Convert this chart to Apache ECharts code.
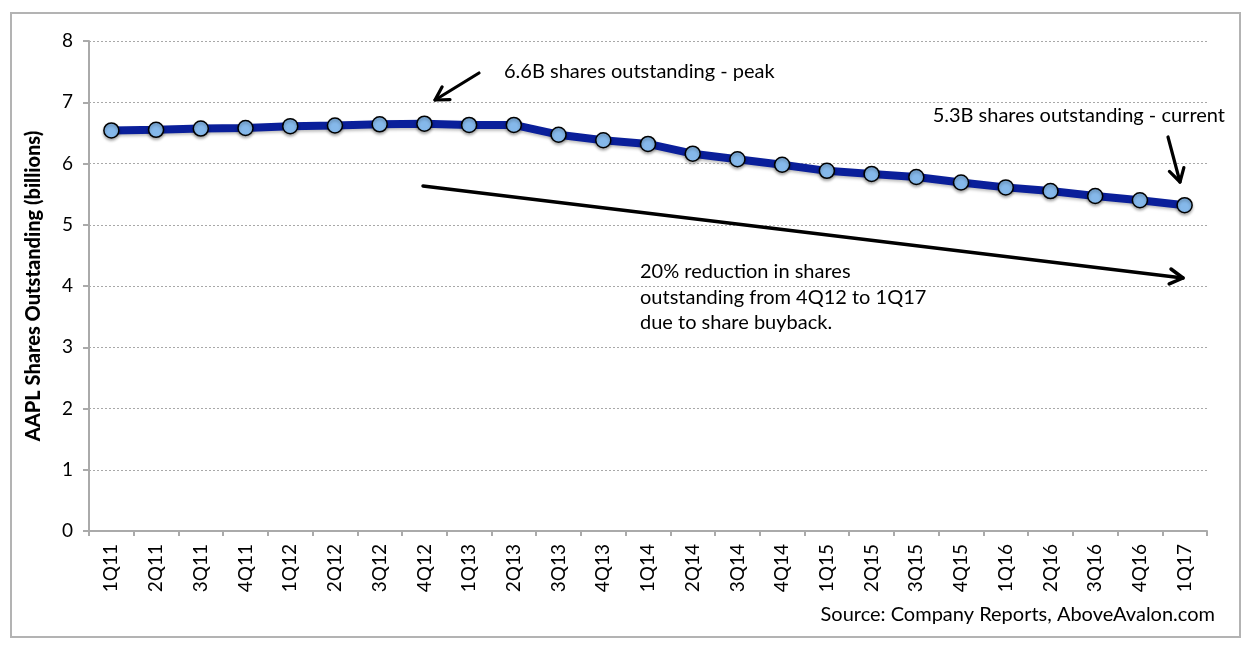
<!DOCTYPE html>
<html><head><meta charset="utf-8">
<script src="https://cdn.jsdelivr.net/npm/echarts@6/dist/echarts.min.js"></script>
<style>html,body{margin:0;padding:0;background:#fff}#c{width:1250px;height:648px}</style>
</head><body><div id="c"></div>
<script>
const categories = ['1Q11','2Q11','3Q11','4Q11','1Q12','2Q12','3Q12','4Q12','1Q13','2Q13','3Q13','4Q13','1Q14','2Q14','3Q14','4Q14','1Q15','2Q15','3Q15','4Q15','1Q16','2Q16','3Q16','4Q16','1Q17'];
const sharesOutstanding = [6.54,6.55,6.57,6.58,6.61,6.62,6.64,6.65,6.63,6.63,6.47,6.38,6.32,6.16,6.07,5.98,5.88,5.83,5.78,5.69,5.61,5.55,5.47,5.40,5.32];
const yTicks = [0,1,2,3,4,5,6,7,8];
const yAxisTitle = 'AAPL Shares Outstanding (billions)';
const peakNote = '6.6B shares outstanding - peak';
const currentNote = '5.3B shares outstanding - current';
const reductionNote = '20% reduction in shares\noutstanding from 4Q12 to 1Q17\ndue to share buyback.';
const sourceNote = 'Source: Company Reports, AboveAvalon.com';

const FONT = 'Lato, "Open Sans", sans-serif';
function arrow(x0,y0,x1,y1,len,w){
  const dx=x1-x0, dy=y1-y0, L=Math.hypot(dx,dy), ux=dx/L, uy=dy/L;
  const a=Math.PI/6;
  const h1=[x1-len*(ux*Math.cos(a)-uy*Math.sin(a)), y1-len*(uy*Math.cos(a)+ux*Math.sin(a))];
  const h2=[x1-len*(ux*Math.cos(a)+uy*Math.sin(a)), y1-len*(uy*Math.cos(a)-ux*Math.sin(a))];
  return [
    {type:'line',shape:{x1:x0,y1:y0,x2:x1,y2:y1},style:{stroke:'#000',lineWidth:w,lineCap:'round'},z:10},
    {type:'polyline',shape:{points:[h1,[x1,y1],h2]},style:{stroke:'#000',fill:null,lineWidth:w,lineCap:'round',lineJoin:'round'},z:10}
  ];
}

const chart = echarts.init(document.getElementById('c'));
chart.setOption({
  animation:false,
  backgroundColor:'#fff',
  grid:{left:89,right:43,top:41,bottom:117,containLabel:false},
  xAxis:{type:'category',data:categories,boundaryGap:true,
    axisLine:{lineStyle:{color:'#aaaaaa',width:2}},
    axisTick:{show:true,length:5,lineStyle:{color:'#aaaaaa',width:2}},
    axisLabel:{rotate:90,color:'#000',fontFamily:FONT,fontSize:19,margin:13,interval:0}
  },
  yAxis:{type:'value',min:0,max:8,interval:1,
    name:yAxisTitle,nameLocation:'middle',nameGap:45,nameRotate:90,
    nameTextStyle:{color:'#000',fontFamily:FONT,fontSize:20,fontWeight:900},
    axisLine:{show:true,lineStyle:{color:'#aaaaaa',width:2}},
    axisTick:{show:true,length:6,lineStyle:{color:'#aaaaaa',width:2}},
    axisLabel:{color:'#000',fontFamily:FONT,fontSize:19,margin:16,formatter:v=>yTicks.includes(v)?String(v):''},
    splitLine:{show:true,lineStyle:{color:'#a8a8a8',type:[2,2],width:1}}
  },
  series:[{type:'line',data:sharesOutstanding,
    lineStyle:{color:'#0a1f9a',width:8,shadowColor:'rgba(0,0,0,0.25)',shadowBlur:3,shadowOffsetY:2},
    symbol:'circle',symbolSize:15,
    itemStyle:{color:'#85b8ea',borderColor:'#000',borderWidth:1.5,shadowColor:'rgba(0,0,0,0.3)',shadowBlur:3,shadowOffsetY:2},
    z:5
  }],
  graphic:[
    {type:'rect',shape:{x:11,y:13,width:1229,height:624},style:{fill:null,stroke:'#b3b3b3',lineWidth:2},z:0,silent:true},
    {type:'text',x:504,y:72,style:{text:peakNote,font:'20px '+FONT,fill:'#000',verticalAlign:'middle'},z:10},
    {type:'text',x:1225,y:116,style:{text:currentNote,font:'20px '+FONT,fill:'#000',align:'right',verticalAlign:'middle'},z:10},
    {type:'text',x:640,y:259,style:{text:reductionNote,font:'20px '+FONT,fill:'#000',lineHeight:25.5,verticalAlign:'top'},z:10},
    {type:'text',x:1215,y:615,style:{text:sourceNote,font:'20px '+FONT,fill:'#000',align:'right',verticalAlign:'middle'},z:10},
    ...arrow(479,73,435,100,15,3.2),
    ...arrow(1168,137,1180,182,15,3.2),
    ...arrow(423,186,1183,278,15,3.5)
  ]
});
</script></body></html>
